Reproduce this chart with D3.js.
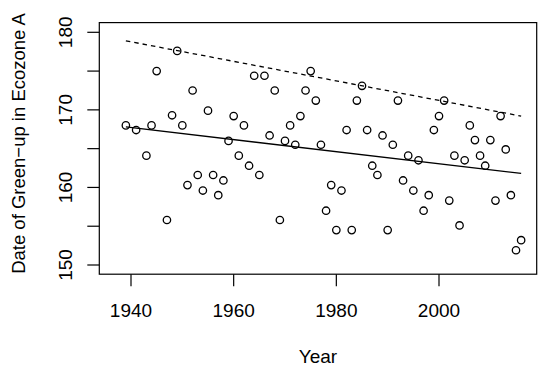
<!DOCTYPE html>
<html>
<head>
<meta charset="utf-8">
<script src="https://cdn.jsdelivr.net/npm/d3@7"></script>
<style>
  html, body { margin: 0; padding: 0; background: #fff; }
  svg { display: block; }
  text { font-family: "Liberation Sans", Arial, Helvetica, sans-serif; fill: #000; }
</style>
</head>
<body>
<svg id="chart" width="550" height="377"></svg>
<script>
// ---- data ----
const years = [1939,1941,1943,1944,1945,1947,1948,1949,1950,1951,1952,1953,1954,1955,1956,1957,1958,1959,1960,
  1961,1962,1963,1964,1965,1966,1967,1968,1969,1970,1971,1972,1973,1974,1975,1976,1977,1978,1979,1980,
  1981,1982,1983,1984,1985,1986,1987,1988,1989,1990,1991,1992,1993,1994,1995,1996,1997,1998,1999,2000,
  2001,2002,2003,2004,2005,2006,2007,2008,2009,2010,2011,2012,2013,2014,2015,2016];
const greenUp = [168.0,167.4,164.1,168.0,175.0,155.8,169.3,177.6,168.0,160.3,172.5,161.6,159.6,169.9,161.6,159.0,160.9,166.0,169.2,
  164.1,168.0,162.8,174.4,161.6,174.4,166.7,172.5,155.8,166.0,168.0,165.5,169.2,172.5,175.0,171.2,165.5,157.0,160.3,154.5,
  159.6,167.4,154.5,171.2,173.1,167.4,162.8,161.6,166.7,154.5,165.5,171.2,160.9,164.1,159.6,163.5,157.0,159.0,167.4,169.2,
  171.2,158.3,164.1,155.1,163.5,168.0,166.1,164.1,162.8,166.1,158.3,169.2,164.9,159.0,151.9,153.2];
// trend lines: [start, end] as (year, value)
const trendYears = [1939, 2016];
const trendSolid = [167.8, 161.8];
const trendDashed = [178.9, 169.2];
const xTicks = [1940, 1960, 1980, 2000];
const yTicks = [150, 155, 160, 165, 170, 175, 180];
const yTickLabels = [150, 160, 170, 180];

// ---- layout ----
const svg = d3.select("#chart");
const x = d3.scaleLinear().domain([1940, 2000]).range([131, 439]);
const y = d3.scaleLinear().domain([150, 180]).range([265, 32.3]);
const box = { left: 99.3, right: 536.7, top: 22.6, bottom: 274.2 };
const fs = 19;

// plot box
svg.append("rect")
  .attr("x", box.left).attr("y", box.top)
  .attr("width", box.right - box.left).attr("height", box.bottom - box.top)
  .attr("fill", "none").attr("stroke", "#000").attr("stroke-width", 1.2);

// x axis
const xg = svg.append("g");
xg.selectAll("line").data(xTicks).join("line")
  .attr("x1", d => x(d)).attr("x2", d => x(d))
  .attr("y1", box.bottom).attr("y2", box.bottom + 12)
  .attr("stroke", "#000").attr("stroke-width", 1.2);
xg.selectAll("text").data(xTicks).join("text")
  .attr("x", d => x(d)).attr("y", 316.7)
  .attr("text-anchor", "middle").attr("font-size", fs)
  .text(d => d);

// y axis
const yg = svg.append("g");
yg.selectAll("line").data(yTicks).join("line")
  .attr("x1", box.left - 12).attr("x2", box.left)
  .attr("y1", d => y(d)).attr("y2", d => y(d))
  .attr("stroke", "#000").attr("stroke-width", 1.2);
yg.selectAll("text").data(yTickLabels).join("text")
  .attr("transform", d => `translate(71.5,${y(d)}) rotate(-90)`)
  .attr("text-anchor", "middle").attr("font-size", fs)
  .text(d => d);

// axis titles
svg.append("text")
  .attr("x", (box.left + box.right) / 2).attr("y", 363.3)
  .attr("text-anchor", "middle").attr("font-size", fs)
  .text("Year");
svg.append("text")
  .attr("transform", `translate(25.3,143.5) rotate(-90)`)
  .attr("text-anchor", "middle").attr("font-size", 18.5)
  .text("Date of Green\u2212up in Ecozone A");

// trend lines
svg.append("line")
  .attr("x1", x(trendYears[0])).attr("y1", y(trendSolid[0]))
  .attr("x2", x(trendYears[1])).attr("y2", y(trendSolid[1]))
  .attr("stroke", "#000").attr("stroke-width", 1.3);
svg.append("line")
  .attr("x1", x(trendYears[0])).attr("y1", y(trendDashed[0]))
  .attr("x2", x(trendYears[1])).attr("y2", y(trendDashed[1]))
  .attr("stroke", "#000").attr("stroke-width", 1.3)
  .attr("stroke-dasharray", "4.5,4");

// points
svg.append("g").selectAll("circle").data(years.map((yr, i) => [yr, greenUp[i]])).join("circle")
  .attr("cx", d => x(d[0])).attr("cy", d => y(d[1]))
  .attr("r", 3.7)
  .attr("fill", "none").attr("stroke", "#000").attr("stroke-width", 1.3);
</script>
</body>
</html>
